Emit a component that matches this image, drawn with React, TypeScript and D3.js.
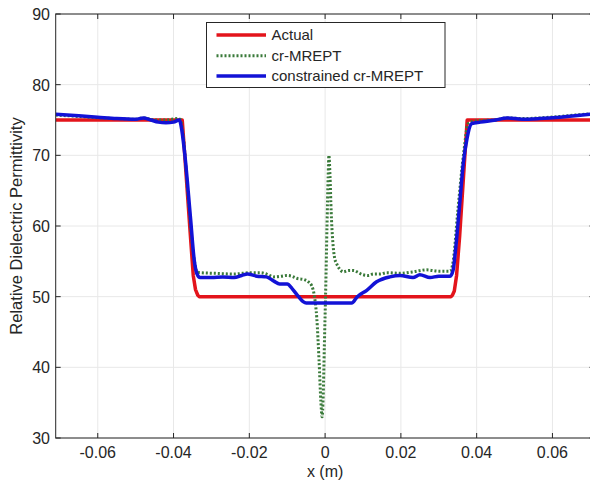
import React from "react";
import * as d3 from "d3";

const xTicks = [-0.06, -0.04, -0.02, 0, 0.02, 0.04, 0.06];
const xTickLabels = ["-0.06", "-0.04", "-0.02", "0", "0.02", "0.04", "0.06"];
const yTicks = [30, 40, 50, 60, 70, 80, 90];
const yTickLabels = ["30", "40", "50", "60", "70", "80", "90"];

const seriesNames = ["Actual", "cr-MREPT", "constrained cr-MREPT"];

const actualX = [-0.0711, -0.0377, -0.0356, -0.0348, -0.0342, -0.0336, -0.0332, 0.0332, 0.0336, 0.0341, 0.0347, 0.0355, 0.0375, 0.0711];
const actualY = [75, 75, 59, 53, 51, 50.2, 50, 50, 50.2, 50.8, 53, 58.5, 75, 75];

const crX = [-0.0711, -0.065, -0.06, -0.055, -0.05, -0.048, -0.045, -0.042, -0.039, -0.0382, -0.0375, -0.036, -0.0345, -0.0338, -0.033, -0.0286, -0.024, -0.0198, -0.017, -0.0154, -0.0136, -0.0115, -0.0101, -0.0088, -0.0075, -0.0055, -0.0044, -0.0035, -0.0028, -0.0022, -0.0016, -0.0011, -0.0008, -0.0005, -0.0002, 0.0002, 0.0005, 0.0008, 0.001, 0.0013, 0.0016, 0.002, 0.0025, 0.0031, 0.004, 0.0048, 0.0062, 0.0075, 0.0088, 0.01, 0.0115, 0.0127, 0.0145, 0.0163, 0.0198, 0.023, 0.0268, 0.03, 0.033, 0.0338, 0.035, 0.0365, 0.0378, 0.04, 0.045, 0.048, 0.052, 0.0567, 0.062, 0.066, 0.0711];
const crY = [75.7, 75.5, 75.3, 75.2, 75.1, 75.3, 75.0, 75.0, 75.2, 75.1, 73, 63, 55, 53.5, 53.4, 53.3, 53.2, 53.4, 53.4, 53.2, 52.8, 52.9, 53.0, 52.9, 52.6, 52.4, 52.1, 51.5, 50.0, 47, 41, 35, 33, 36, 43, 52, 60, 67, 70, 67, 62, 58, 55.5, 54.6, 53.8, 53.5, 53.7, 53.7, 53.4, 53.1, 53.0, 53.2, 53.2, 53.4, 53.3, 53.5, 53.8, 53.6, 53.6, 55, 62, 70, 74.5, 74.9, 75.0, 75.3, 75.2, 75.3, 75.5, 75.7, 75.9];

const conX = [-0.0711, -0.065, -0.06, -0.055, -0.05, -0.048, -0.046, -0.044, -0.042, -0.04, -0.0385, -0.0378, -0.037, -0.0355, -0.0345, -0.0338, -0.033, -0.03, -0.027, -0.024, -0.022, -0.0205, -0.018, -0.0155, -0.0135, -0.012, -0.01, -0.0085, -0.007, -0.0058, -0.005, 0.007, 0.0085, 0.011, 0.0136, 0.0171, 0.0198, 0.0232, 0.025, 0.0277, 0.03, 0.033, 0.0338, 0.0345, 0.0355, 0.0365, 0.0375, 0.0387, 0.041, 0.045, 0.048, 0.052, 0.0567, 0.062, 0.066, 0.0711];
const conY = [75.8, 75.6, 75.4, 75.2, 75.1, 75.3, 75.0, 74.7, 74.6, 74.7, 75.0, 73.5, 70, 61, 55, 53.2, 52.7, 52.7, 52.8, 52.7, 53.0, 53.2, 52.9, 52.8, 52.2, 51.8, 51.8, 51.0, 50.0, 49.3, 49.1, 49.1, 50.0, 50.9, 52.1, 52.8, 53.0, 52.7, 53.1, 52.7, 52.9, 52.9, 53.8, 57, 63, 69, 72.5, 74.5, 74.7, 75.0, 75.3, 75.1, 75.2, 75.4, 75.6, 75.9];

const W = 590;
const H = 485;
const left = 55.7;
const right = 594.5;
const top = 14;
const bottom = 438;

const FONT = "'Liberation Sans', Arial, sans-serif";
const TEXT = "#262626";

export default function App() {
  const x = d3.scaleLinear().domain([-0.0711, 0.0711]).range([left, right]);
  const y = d3.scaleLinear().domain([30, 90]).range([bottom, top]);

  const mk = (xs: number[], ys: number[], curve: any) =>
    d3
      .line<number>()
      .x((d) => x(xs[d]))
      .y((d) => y(ys[d]))
      .curve(curve)(d3.range(xs.length)) as string;

  const actualPath = mk(actualX, actualY, d3.curveLinear);
  const crPath = mk(crX, crY, d3.curveMonotoneX);
  const conPath = mk(conX, conY, d3.curveMonotoneX);

  const colors = ["#e3141b", "#3a7a3a", "#1212d6"];

  const legX = 206.5;
  const legY = 22.5;
  const legW = 238.5;
  const legH = 65;
  const rows = [35, 55.7, 76];

  return (
    <svg
      width={W}
      height={H}
      style={{ position: "absolute", left: 0, top: 0, background: "#fff" }}
    >
      <defs>
        <clipPath id="plotclip">
          <rect x={left} y={top} width={right - left} height={bottom - top} />
        </clipPath>
      </defs>
      <rect x={0} y={0} width={W} height={H} fill="#fff" />
      {xTicks.map((t) => (
        <line key={"gx" + t} x1={x(t)} x2={x(t)} y1={top} y2={bottom} stroke="#e8e8e8" strokeWidth={1} />
      ))}
      {yTicks.map((t) => (
        <line key={"gy" + t} x1={left} x2={right} y1={y(t)} y2={y(t)} stroke="#e8e8e8" strokeWidth={1} />
      ))}
      <g clipPath="url(#plotclip)" fill="none" strokeLinejoin="round">
        <path d={actualPath} stroke={colors[0]} strokeWidth={3.5} />
        <path d={crPath} stroke={colors[1]} strokeWidth={3} strokeDasharray="2,2" />
        <path d={conPath} stroke={colors[2]} strokeWidth={3.5} />
      </g>
      <rect x={left} y={top} width={right - left} height={bottom - top} fill="none" stroke={TEXT} strokeWidth={1} />
      {xTicks.map((t) => (
        <g key={"tx" + t}>
          <line x1={x(t)} x2={x(t)} y1={bottom} y2={bottom - 5} stroke={TEXT} />
          <line x1={x(t)} x2={x(t)} y1={top} y2={top + 5} stroke={TEXT} />
        </g>
      ))}
      {yTicks.map((t) => (
        <g key={"ty" + t}>
          <line x1={left} x2={left + 5} y1={y(t)} y2={y(t)} stroke={TEXT} />
          <line x1={right} x2={right - 5} y1={y(t)} y2={y(t)} stroke={TEXT} />
        </g>
      ))}
      {xTicks.map((t, i) => (
        <text key={"lx" + t} x={x(t)} y={458} textAnchor="middle" fontFamily={FONT} fontSize={16} fill={TEXT}>
          {xTickLabels[i]}
        </text>
      ))}
      {yTicks.map((t, i) => (
        <text key={"ly" + t} x={50} y={y(t) + 6} textAnchor="end" fontFamily={FONT} fontSize={16} fill={TEXT}>
          {yTickLabels[i]}
        </text>
      ))}
      <text x={x(0)} y={477} textAnchor="middle" fontFamily={FONT} fontSize={16} fill={TEXT}>
        x (m)
      </text>
      <text
        transform={`translate(22, ${(top + bottom) / 2}) rotate(-90)`}
        textAnchor="middle"
        fontFamily={FONT}
        fontSize={16.5}
        fill={TEXT}
      >
        Relative Dielectric Permittivity
      </text>
      <rect x={legX} y={legY} width={legW} height={legH} fill="#fff" stroke={TEXT} strokeWidth={1} />
      {seriesNames.map((name, i) => (
        <g key={name}>
          <line
            x1={216.5}
            x2={266}
            y1={rows[i]}
            y2={rows[i]}
            stroke={colors[i]}
            strokeWidth={i === 1 ? 3 : 3.5}
            strokeDasharray={i === 1 ? "2,2" : undefined}
          />
          <text x={271.5} y={rows[i] + 5} fontFamily={FONT} fontSize={15} fill={TEXT}>
            {name}
          </text>
        </g>
      ))}
    </svg>
  );
}
